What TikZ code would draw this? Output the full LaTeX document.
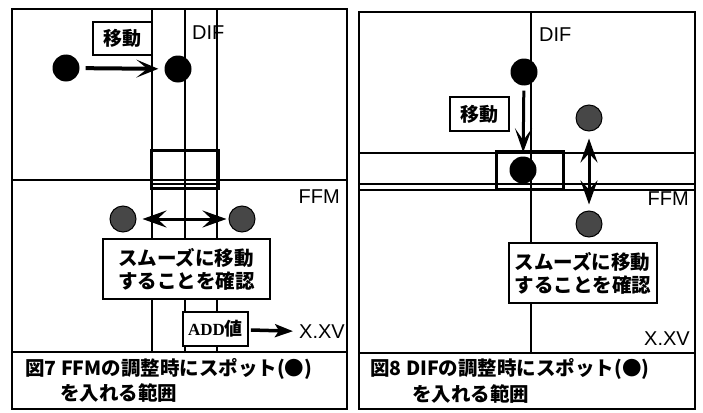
\documentclass[tikz,border=0pt]{standalone}
\usepackage{fontspec}
\setmainfont{Liberation Sans}
\newfontfamily\jp{Noto Sans CJK JP}
\newfontfamily\tms{Liberation Serif}
\usetikzlibrary{arrows.meta}
\begin{document}
\begin{tikzpicture}[x=1pt,y=-1pt,
  frame/.style={line width=2.2pt},
  thinline/.style={line width=1.1pt},
  dot/.style={circle,fill=black,minimum size=27pt,inner sep=0pt},
  gdot/.style={circle,fill=black!72,draw=black,line width=1pt,minimum size=26pt,inner sep=0pt},
  lab/.style={font=\fontsize{20}{20}\selectfont,inner sep=0pt},
  mvbox/.style={draw,line width=1.8pt,inner sep=0pt,font=\jp\bfseries\fontsize{19}{19}\selectfont},
  bigbox/.style={draw,line width=1.8pt,inner sep=0pt,align=left,font=\jp\bfseries\fontsize{19.5}{23}\selectfont},
  capt/.style={inner sep=0pt,anchor=west,font=\jp\bfseries\fontsize{19.5}{19.5}\selectfont},
  mv/.style={line width=4pt,-{Stealth[length=22pt,width=18pt,inset=11pt]}},
  mvd/.style={line width=3pt,-{Stealth[length=24pt,width=17pt,inset=12pt]}},
  dbl/.style={line width=3pt,{Stealth[length=24pt,width=17pt,inset=9pt]}-{Stealth[length=24pt,width=17pt,inset=9pt]}},
  addarr/.style={line width=3.5pt,-{Stealth[length=18pt,width=13pt,inset=4pt]}}
]
\useasboundingbox (0,0) rectangle (703,412);
\fill[white] (0,0) rectangle (703,412);

% ---------- left panel ----------
\draw[frame] (12,9) rectangle (347,409);
\draw[frame] (12,352) -- (347,352);
\foreach \xx in {152,185,217} \draw[thinline] (\xx,9) -- (\xx,352);
\draw[thinline] (12,180) -- (347,180);
\draw[thinline] (151,184) -- (218,184);
\draw[line width=3pt] (151,150) rectangle (218,188);

\node[lab,anchor=west] (difL) at (192,33) {DIF};
\node[lab,anchor=east] (ffmL) at (340,197) {FFM};
\node[lab,anchor=east] (xxvL) at (345,332) {X.XV};

\node[mvbox,fill=white,minimum width=59pt,minimum height=33pt] (mvL) at (122.5,38.5) {移動};
\node[dot] (d1L) at (66,68) {};
\node[dot] (d2L) at (178,69) {};
\draw[mv,shorten <=6pt,shorten >=6pt] (d1L) -- (d2L);

\node[gdot] (g1L) at (123,219) {};
\node[gdot] (g2L) at (242,219) {};
\draw[dbl,shorten <=6pt,shorten >=2pt] (g1L) -- (g2L);

\node[bigbox,fill=white,minimum width=167pt,minimum height=60pt] (smL) at (186.5,269) {スムーズに移動\\することを確認};

\node[draw,line width=1.8pt,fill=white,minimum width=65pt,minimum height=34pt,inner sep=0pt] (addL) at (215.5,329)
  {\tms\bfseries\fontsize{17}{17}\selectfont ADD\jp\fontsize{18}{18}\selectfont 値};
\draw[addarr,shorten <=2pt,shorten >=6pt] (addL) -- (xxvL);

\node[capt] (c7a) at (25,369) {図7 FFMの調整時にスポット(●)};
\node[capt] (c7b) at (60,393) {を入れる範囲};

% ---------- right panel ----------
\draw[frame] (359,12) rectangle (695,409);
\draw[frame] (359,353) -- (695,353);
\draw[thinline] (531,12) -- (531,353);
\draw[thinline] (359,153) -- (695,153);
\draw[thinline] (359,184) -- (695,184);
\draw[thinline] (359,190) -- (695,190);
\draw[line width=3pt] (496,151) rectangle (563,189);

\node[lab,anchor=west] (difR) at (539,35) {DIF};
\node[lab,anchor=east] (ffmR) at (689,199) {FFM};
\node[lab,anchor=east] (xxvR) at (690,339) {X.XV};

\node[dot] (d1R) at (524,72) {};
\node[dot] (d2R) at (523,170) {};
\node[mvbox,fill=white,minimum width=59pt,minimum height=34pt] (mvR) at (479.5,114) {移動};
\draw[mvd,shorten <=5pt,shorten >=4pt] (d1R) -- (d2R);

\node[gdot] (g1R) at (589,118) {};
\node[gdot] (g2R) at (589,224) {};
\draw[dbl,shorten <=7pt,shorten >=6pt] (g1R) -- (g2R);

\node[bigbox,fill=white,minimum width=148pt,minimum height=60pt] (smR) at (583,273) {スムーズに移動\\することを確認};

\node[capt] (c8a) at (370,369) {図8 DIFの調整時にスポット(●)};
\node[capt] (c8b) at (412,394) {を入れる範囲};
\end{tikzpicture}
\end{document}
